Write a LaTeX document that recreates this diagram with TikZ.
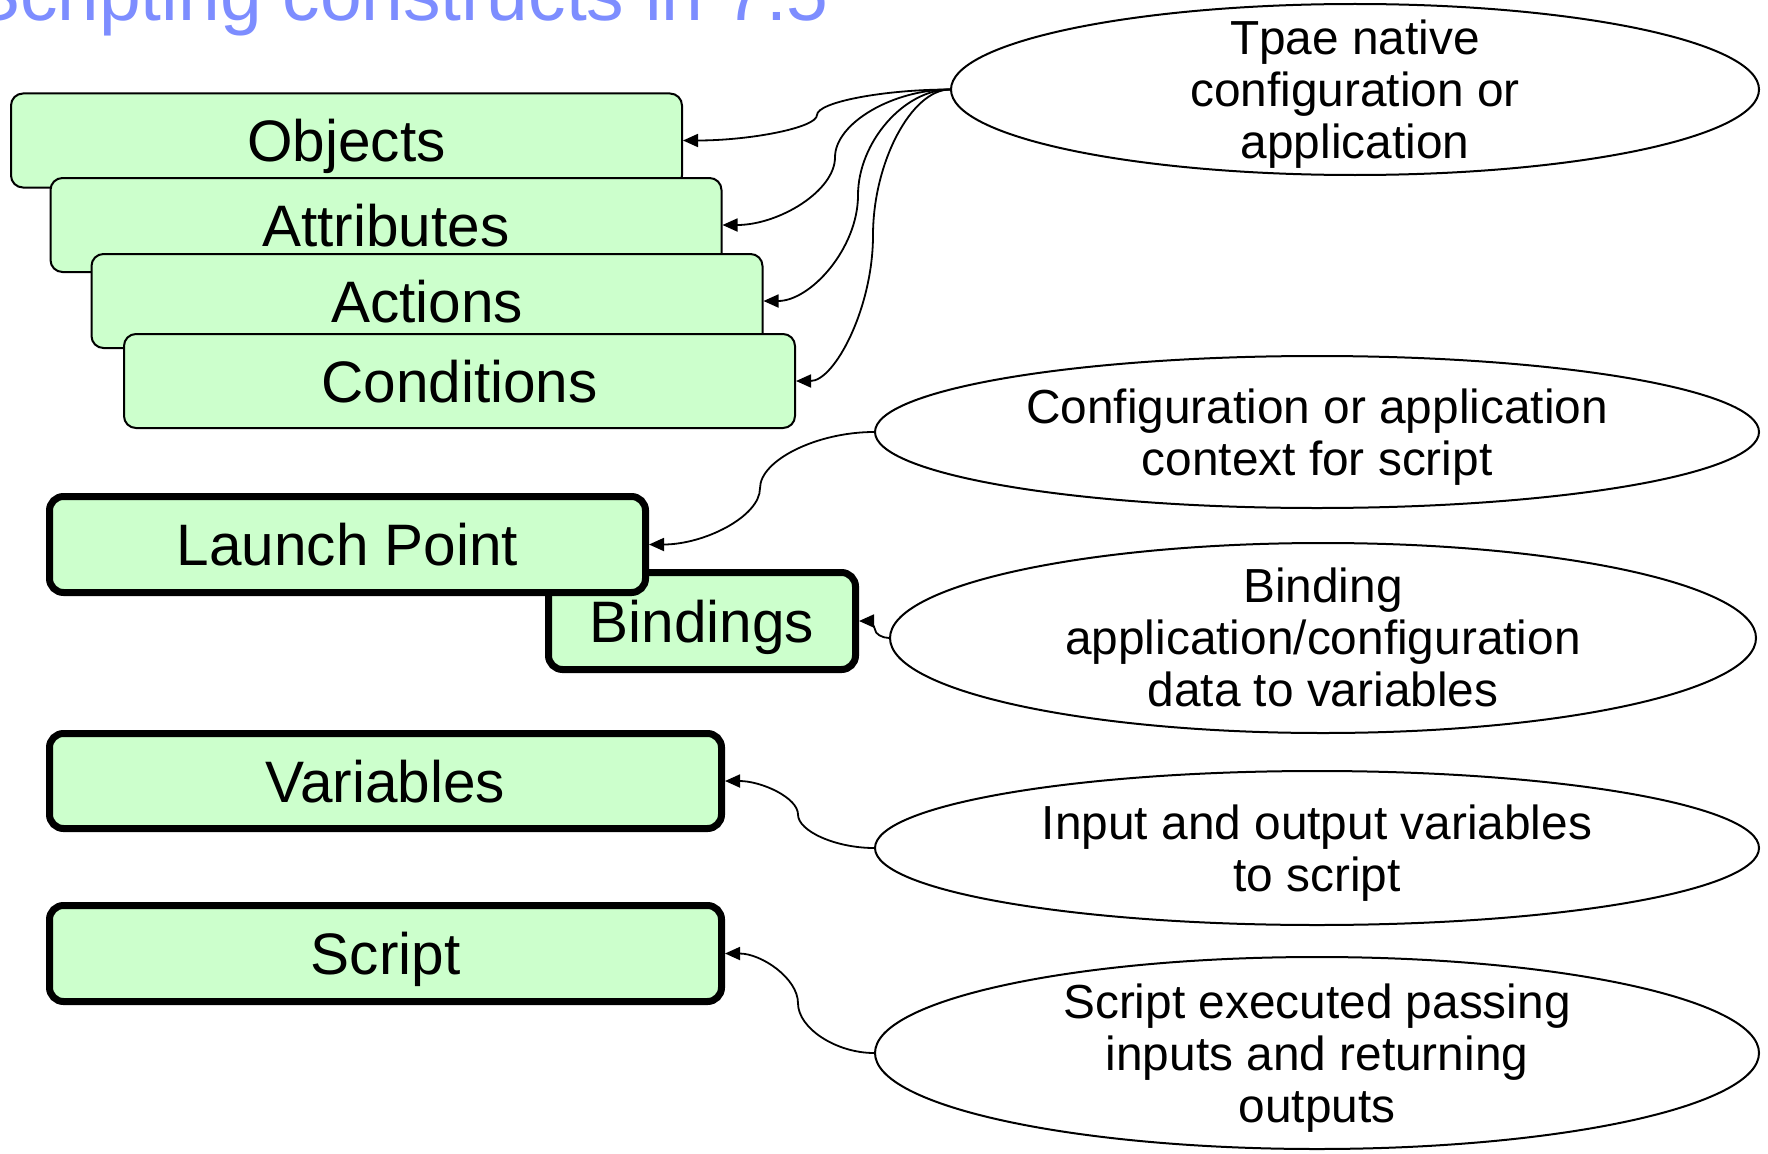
\documentclass[tikz,border=0pt]{standalone}
\usepackage{fontspec}
\setmainfont{Liberation Sans}
\usetikzlibrary{shapes.geometric,arrows.meta,calc}

\definecolor{boxgreen}{RGB}{204,255,204}
\definecolor{titleblue}{RGB}{125,141,255}

\tikzset{
  construct/.style={draw=black, line width=2pt, fill=boxgreen, rounded corners=12pt,
    minimum width=671pt, minimum height=94pt, inner sep=0pt,
    font=\fontsize{58.5}{64}\selectfont, text height=42pt, text depth=0pt},
  keybox/.style={construct, line width=7pt, rounded corners=14pt},
  note/.style={draw=black, line width=2pt, ellipse, inner sep=0pt, fill=white},
  notetext/.style={align=center, inner sep=0pt, yshift=-5pt, font=\fontsize{47.8}{52}\selectfont},
  link/.style={line width=1.8pt, -{Triangle[length=15pt,width=13pt]}},
}

% S-shaped connector: leaves #1 horizontally, turns at x = #3, enters #2 horizontally
\newcommand\curvelink[3]{%
  \draw[link] let \p1=(#1), \p2=(#2) in
    (\p1) .. controls ({(\x1+#3pt)/2},\y1) and (#3pt,{\y1+(\y2-\y1)/4}) .. (#3pt,{(\y1+\y2)/2})
          .. controls (#3pt,{\y1+3*(\y2-\y1)/4}) and ({(#3pt+\x2)/2},\y2) .. (\p2);}

\begin{document}
\begin{tikzpicture}[x=1pt,y=-1pt]
  \useasboundingbox (0,0) rectangle (1768,1153);
  \fill[white] (0,0) rectangle (1768,1153);
  \clip (0,0) rectangle (1768,1153);

  % heading
  \node[anchor=base east, text=titleblue, font=\fontsize{75}{80}\selectfont, inner sep=0pt]
    (title) at (829,21) {Scripting constructs in 7.5};

  % stacked native constructs
  \node[construct] (objects)    at (346.5,140.5) {Objects};
  \node[construct] (attributes) at (386,225)     {Attributes};
  \node[construct] (actions)    at (427,301)     {Actions};
  \node[construct] (conditions) at (459.5,381)   {Conditions};

  % script constructs
  \node[keybox, minimum width=307pt, minimum height=97pt] (bindings)  at (702,621)     {Bindings};
  \node[keybox, minimum width=596pt, minimum height=96pt] (launch)    at (347.5,544.5) {Launch Point};
  \node[keybox, minimum width=672pt, minimum height=95pt] (variables) at (385.5,781)   {Variables};
  \node[keybox, minimum width=672pt, minimum height=96pt] (script)    at (385.5,953.5) {Script};

  % explanations
  \node[note, minimum width=808pt, minimum height=171pt] (native)  at (1355,89.5) {};
  \node[notetext] (nativetext) at (native) {Tpae native\\configuration or\\application};
  \node[note, minimum width=884pt, minimum height=152pt] (context) at (1317,432) {};
  \node[notetext] (contexttext) at (context) {Configuration or application\\context for script};
  \node[note, minimum width=866pt, minimum height=190pt] (binding) at (1323,638) {};
  \node[notetext, yshift=5.5pt] (bindingtext) at (binding) {Binding\\application/configuration\\data to variables};
  \node[note, minimum width=884pt, minimum height=154pt] (inout)   at (1317,848) {};
  \node[notetext] (inouttext) at (inout) {Input and output variables\\to script};
  \node[note, minimum width=884pt, minimum height=192pt] (exec)    at (1317,1053) {};
  \node[notetext] (exectext) at (exec) {Script executed passing\\inputs and returning\\outputs};

  % connectors
  \curvelink{native.west}{objects.east}{817}
  \curvelink{native.west}{attributes.east}{835}
  \curvelink{native.west}{actions.east}{858}
  \curvelink{native.west}{conditions.east}{873}
  \curvelink{context.west}{launch.east}{760}
  \curvelink{binding.west}{bindings.east}{875}
  \curvelink{inout.west}{variables.east}{798}
  \curvelink{exec.west}{script.east}{798}
\end{tikzpicture}
\end{document}
